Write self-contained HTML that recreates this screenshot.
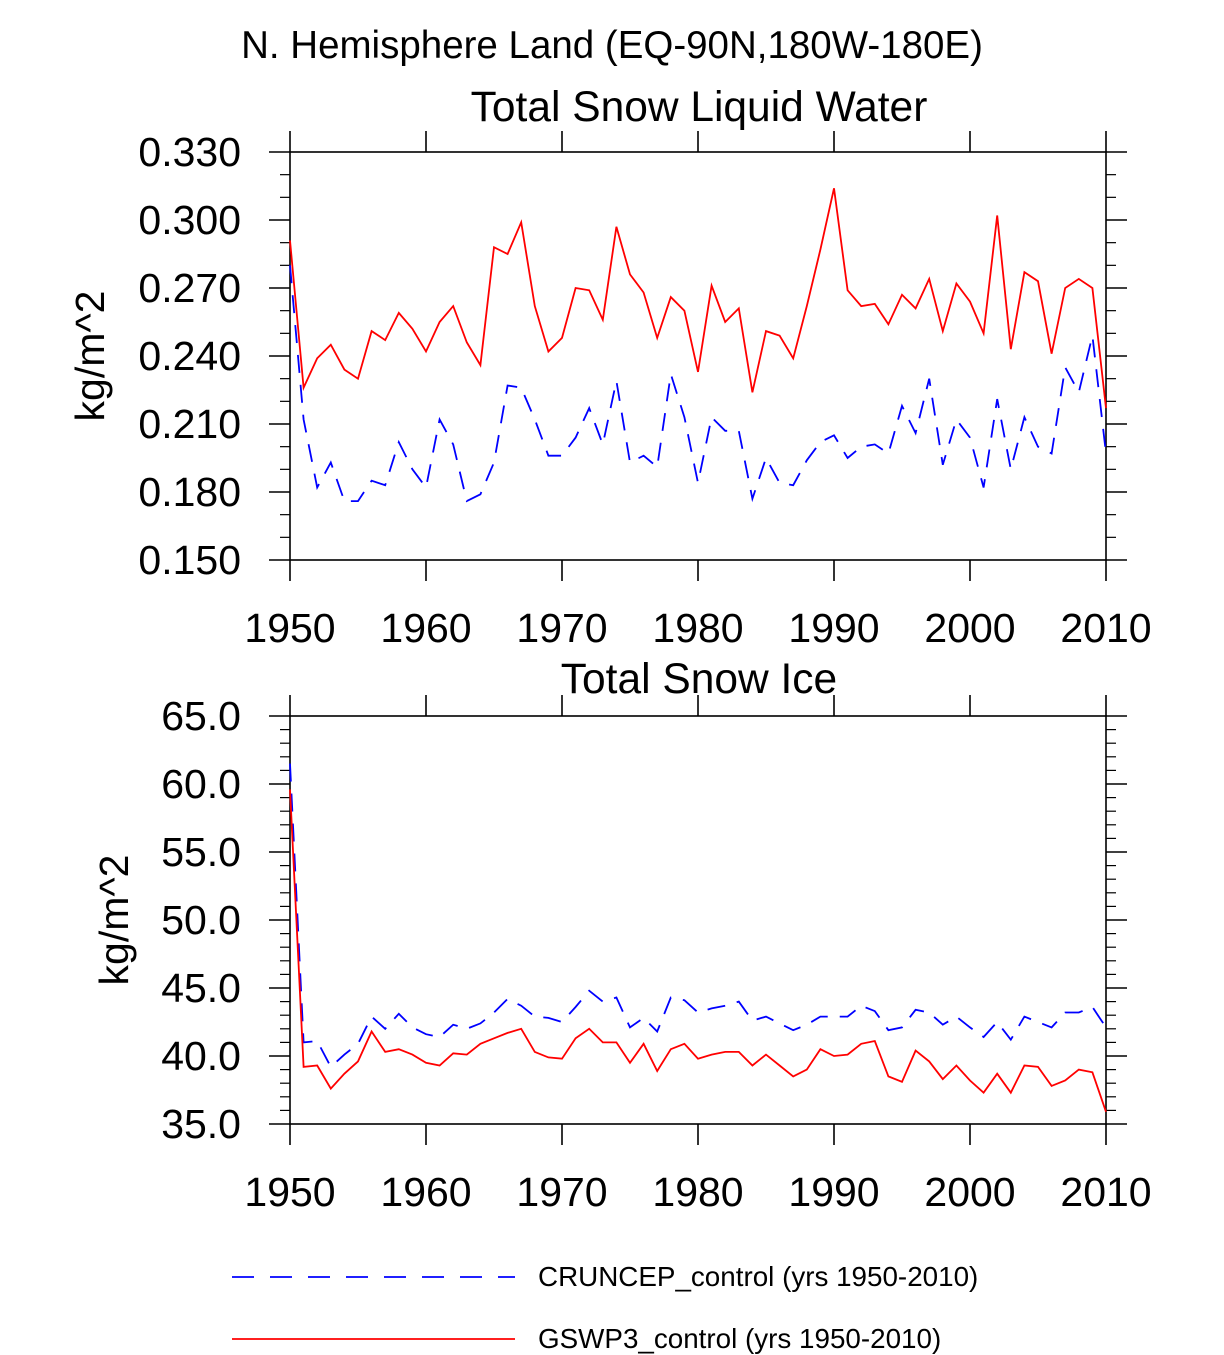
<!DOCTYPE html>
<html><head><meta charset="utf-8"><style>
html,body{margin:0;padding:0;background:#fff;}
svg{display:block;font-family:"Liberation Sans",sans-serif;}
</style></head><body>
<svg id="chart" width="1224" height="1355" viewBox="0 0 1224 1355" xmlns="http://www.w3.org/2000/svg">
<text x="612" y="58" font-size="38.5" text-anchor="middle">N. Hemisphere Land (EQ-90N,180W-180E)</text>
<g id="p1"></g>
<g id="p2"></g>
<g>
<line x1="232" y1="1277" x2="515" y2="1277" stroke="#0000ff" stroke-width="1.8" stroke-dasharray="22,16"/>
<text x="538" y="1286" font-size="27.8">CRUNCEP_control (yrs 1950-2010)</text>
<line x1="232" y1="1339" x2="515" y2="1339" stroke="#ff0000" stroke-width="1.8"/>
<text x="538" y="1348" font-size="27.8">GSWP3_control (yrs 1950-2010)</text>
</g>
</svg>
<script>
const years = [];
for (let y = 1950; y <= 2010; y++) years.push(y);
const liquidGswp3 = [0.291,0.226,0.239,0.245,0.234,0.230,0.251,0.247,0.259,0.252,0.242,0.255,0.262,0.246,0.236,0.288,0.285,0.299,0.262,0.242,0.248,0.270,0.269,0.256,0.297,0.276,0.268,0.248,0.266,0.260,0.233,0.271,0.255,0.261,0.224,0.251,0.249,0.239,0.262,0.287,0.314,0.269,0.262,0.263,0.254,0.267,0.261,0.274,0.251,0.272,0.264,0.250,0.302,0.243,0.277,0.273,0.241,0.270,0.274,0.270,0.217];
const liquidCruncep = [0.280,0.212,0.182,0.193,0.176,0.176,0.185,0.183,0.202,0.190,0.182,0.212,0.201,0.176,0.179,0.193,0.227,0.226,0.212,0.196,0.196,0.204,0.217,0.201,0.229,0.193,0.196,0.191,0.232,0.213,0.184,0.213,0.207,0.207,0.177,0.195,0.184,0.183,0.194,0.202,0.205,0.195,0.200,0.201,0.197,0.218,0.206,0.230,0.192,0.212,0.204,0.182,0.221,0.190,0.213,0.200,0.197,0.235,0.224,0.249,0.197];
const iceGswp3 = [59.6,39.2,39.3,37.6,38.7,39.6,41.8,40.3,40.5,40.1,39.5,39.3,40.2,40.1,40.9,41.3,41.7,42.0,40.3,39.9,39.8,41.3,42.0,41.0,41.0,39.5,40.9,38.9,40.5,40.9,39.8,40.1,40.3,40.3,39.3,40.1,39.3,38.5,39.0,40.5,40.0,40.1,40.9,41.1,38.5,38.1,40.4,39.6,38.3,39.3,38.2,37.3,38.7,37.3,39.3,39.2,37.8,38.2,39.0,38.8,35.9];
const iceCruncep = [61.5,41.0,41.1,39.2,40.1,40.9,42.9,42.0,43.1,42.1,41.6,41.4,42.3,42.0,42.4,43.2,44.2,43.7,42.9,42.8,42.5,43.6,44.8,44.0,44.3,42.1,42.8,41.8,44.3,44.1,43.2,43.5,43.7,44.0,42.6,42.9,42.4,41.9,42.3,42.9,42.9,42.9,43.7,43.3,41.9,42.1,43.4,43.2,42.3,42.9,42.1,41.4,42.5,41.2,42.9,42.5,42.1,43.2,43.2,43.6,42.1];
const xTicks = [1950,1960,1970,1980,1990,2000,2010];
const liquidTicks = [0.150,0.180,0.210,0.240,0.270,0.300,0.330];
const iceTicks = [35,40,45,50,55,60,65];

const NS = "http://www.w3.org/2000/svg";
function mk(parent, tag, attrs, text) {
  const e = document.createElementNS(NS, tag);
  for (const k in attrs) e.setAttribute(k, attrs[k]);
  if (text !== undefined) e.textContent = text;
  parent.appendChild(e);
  return e;
}
function panel(g, cfg) {
  const L = 290, R = 1106, T = cfg.top, B = cfg.top + 408;
  const xs = v => L + (v - 1950) / 60 * (R - L);
  const ys = v => B - (v - cfg.min) / (cfg.max - cfg.min) * (B - T);
  const title = mk(g, 'text', {x: 699, y: T - cfg.titleOff, 'font-size': 42.5, 'text-anchor': 'middle'}, cfg.title);
  
  
  const frame = mk(g, 'rect', {x: L, y: T, width: R - L, height: B - T, fill: 'none', stroke: '#000', 'stroke-width': 1.6});
  
  
  const step = cfg.ticks[1] - cfg.ticks[0];
  for (let i = 0; i < cfg.ticks.length; i++) {
    const v = cfg.ticks[i], y = ys(v);
    mk(g, 'line', {x1: L - 21, y1: y, x2: L, y2: y, stroke: '#000', 'stroke-width': 1.6});
    mk(g, 'line', {x1: R, y1: y, x2: R + 21, y2: y, stroke: '#000', 'stroke-width': 1.6});
    const lbl = mk(g, 'text', {x: L - 49, y: y + 14, 'font-size': 41, 'text-anchor': 'end'}, v.toFixed(cfg.dec));
    
    
    if (i < cfg.ticks.length - 1) {
      for (let m = 1; m < cfg.minors; m++) {
        const my = ys(v + step * m / cfg.minors);
        mk(g, 'line', {x1: L - 10, y1: my, x2: L, y2: my, stroke: '#000', 'stroke-width': 1.2});
        mk(g, 'line', {x1: R, y1: my, x2: R + 10, y2: my, stroke: '#000', 'stroke-width': 1.2});
      }
    }
  }
  for (const t of xTicks) {
    const x = xs(t);
    mk(g, 'line', {x1: x, y1: B, x2: x, y2: B + 21, stroke: '#000', 'stroke-width': 1.6});
    mk(g, 'line', {x1: x, y1: T - 21, x2: x, y2: T, stroke: '#000', 'stroke-width': 1.6});
    const lbl = mk(g, 'text', {x: x, y: B + 82, 'font-size': 41, 'text-anchor': 'middle'}, String(t));
    
    
  }
  const yt = mk(g, 'text', {x: 0, y: 0, 'font-size': 41, 'text-anchor': 'middle', transform: 'translate(' + cfg.ytx + ',' + (T + 204) + ') rotate(-90)'}, 'kg/m^2');
  
  
  const pts = arr => arr.map((v, i) => xs(years[i]).toFixed(1) + ',' + ys(v).toFixed(1)).join(' ');
  const b = mk(g, 'polyline', {points: pts(cfg.blue), fill: 'none', stroke: '#0000ff', 'stroke-width': 1.8, 'stroke-dasharray': '18,12'});
  
  
  const r = mk(g, 'polyline', {points: pts(cfg.red), fill: 'none', stroke: '#ff0000', 'stroke-width': 1.8});
  
  
}
panel(document.getElementById('p1'), {top: 152, min: 0.150, max: 0.330, ticks: liquidTicks, dec: 3, minors: 3, title: 'Total Snow Liquid Water', titleOff: 31, red: liquidGswp3, blue: liquidCruncep, ytx: 104});
panel(document.getElementById('p2'), {top: 716, min: 35, max: 65, ticks: iceTicks, dec: 1, minors: 5, title: 'Total Snow Ice', titleOff: 23, red: iceGswp3, blue: iceCruncep, ytx: 128});
</script>
</body></html>
